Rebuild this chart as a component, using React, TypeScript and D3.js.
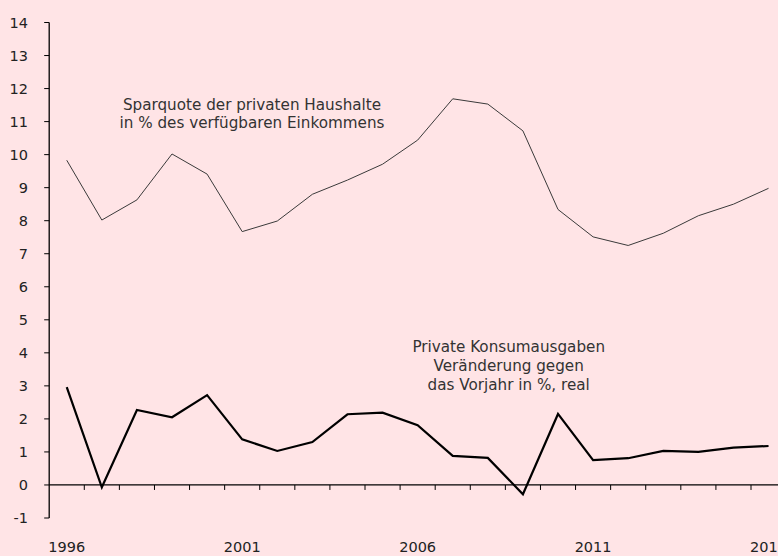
import React from "react";
import * as d3 from "d3";

const years = d3.range(1996, 2017).map(String);
const sparquote = [9.83, 8.02, 8.63, 10.02, 9.41, 7.67, 7.99, 8.8, 9.23, 9.71, 10.44, 11.69, 11.53, 10.72, 8.34, 7.51, 7.25, 7.62, 8.15, 8.5, 8.98];
const konsum = [2.96, -0.07, 2.27, 2.05, 2.72, 1.38, 1.03, 1.3, 2.14, 2.19, 1.81, 0.88, 0.82, -0.28, 2.15, 0.75, 0.81, 1.03, 1.0, 1.13, 1.18];
const yTicks = d3.range(-1, 15);
const xLabels = ["1996", "2001", "2006", "2011", "2016"];
const label1 = ["Sparquote der privaten Haushalte", "in % des verfügbaren Einkommens"];
const label2 = ["Private Konsumausgaben", "Veränderung gegen", "das Vorjahr in %, real"];

const W = 778, H = 556;
const left = 49.2, step = 35.09;
const FONT = "'DejaVu Sans', sans-serif";

export default function App() {
  const x = d3.scaleBand().domain(years).range([left, left + step * years.length]).paddingInner(0).paddingOuter(0);
  const y = d3.scaleLinear().domain([-1, 14]).range([518, 22.5]);
  const cx = (d: string) => (x(d) as number) + x.bandwidth() / 2;
  const line = d3.line<number>().x((_, i) => cx(years[i])).y((v) => y(v));
  const boundaries = years.map((d) => (x(d) as number) + x.bandwidth()).filter((v) => v < W);

  return (
    <div style={{ position: "fixed", left: 0, top: 0, width: W, height: H }}>
      <svg width={W} height={H} style={{ display: "block", background: "#FFE4E6" }} fontFamily={FONT}>
        <rect width={W} height={H} fill="#FFE4E6" />
        {/* y axis */}
        <line x1={left} x2={left} y1={y(14)} y2={y(-1)} stroke="#000" strokeWidth={1.3} />
        {yTicks.map((t) => (
          <g key={t}>
            <line x1={left - 5} x2={left} y1={y(t)} y2={y(t)} stroke="#000" strokeWidth={1} />
            <text x={28} y={y(t)} dy="0.36em" textAnchor="end" fontSize={14.5} fill="#222">{t}</text>
          </g>
        ))}
        {/* x axis at 0 */}
        <line x1={left} x2={W} y1={y(0)} y2={y(0)} stroke="#000" strokeWidth={1.3} />
        {boundaries.map((b, i) => (
          <line key={i} x1={b} x2={b} y1={y(0)} y2={y(0) + 5} stroke="#000" strokeWidth={1} />
        ))}
        {xLabels.map((l) => (
          <text key={l} x={cx(l)} y={552} textAnchor="middle" fontSize={14.5} fill="#222">{l}</text>
        ))}
        {/* lines */}
        <path d={line(sparquote) || ""} fill="none" stroke="#3a3a3a" strokeWidth={1} />
        <path d={line(konsum) || ""} fill="none" stroke="#000" strokeWidth={2.2} strokeLinejoin="miter" />
        {/* labels */}
        {label1.map((t, i) => (
          <text key={t} x={252} y={110 + i * 18} textAnchor="middle" fontSize={15.2} fill="#333">{t}</text>
        ))}
        {label2.map((t, i) => (
          <text key={t} x={508.7} y={352 + i * 19.2} textAnchor="middle" fontSize={15.2} fill="#333">{t}</text>
        ))}
      </svg>
    </div>
  );
}
